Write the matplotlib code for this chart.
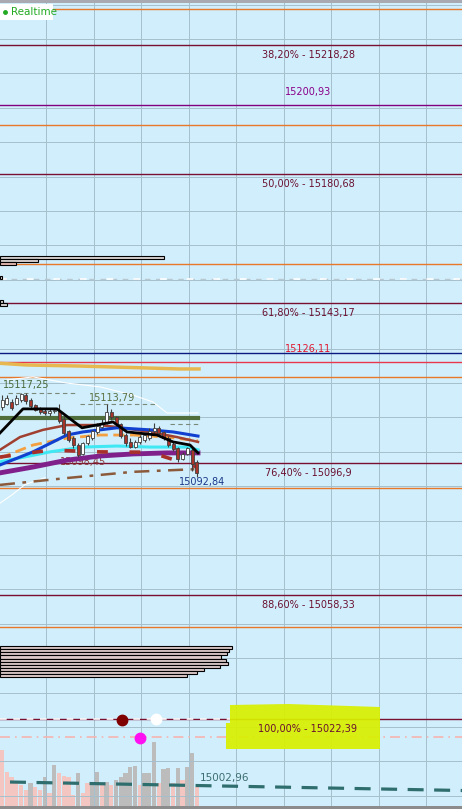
import numpy as np
import matplotlib.pyplot as plt
from matplotlib.patches import Polygon, Rectangle

P_TOP = 15231.36   # price at the top edge
PX = 3.44          # pixels per price point
W, H = 462, 809
BG = '#d1eefc'

# fibonacci retracement levels
fib_pct = ['38,20%', '50,00%', '61,80%', '76,40%', '88,60%', '100,00%']
fib_val = [15218.28, 15180.68, 15143.17, 15096.9, 15058.33, 15022.39]
fib_txt = ['15218,28', '15180,68', '15143,17', '15096,9', '15058,33', '15022,39']

orange_lv = [15228.74, 15195.02, 15154.62, 15121.76, 15089.50, 15049.10]
purple_lv = 15200.93
blue_lv = 15128.74
red_lv = 15126.11
white_dash_lv = 15150.26
pink_dd_lv = 15017.12

# candles (42 bars)
c_open = [15113.0, 15114.0, 15114.5, 15114.0, 15115.2, 15116.5, 15115.0, 15113.5, 15112.4, 15111.8,
          15111.2, 15111.8, 15112.0, 15109.5, 15106.0, 15104.0, 15102.0, 15099.5, 15102.5, 15104.0,
          15105.8, 15107.2, 15108.5, 15111.5, 15110.0, 15108.0, 15104.8, 15102.8, 15101.5, 15102.8,
          15103.5, 15104.0, 15106.0, 15107.0, 15105.8, 15104.0, 15102.2, 15101.0, 15098.0, 15099.5,
          15100.5, 15097.0]
c_close = [15115.0, 15115.6, 15112.8, 15115.8, 15116.8, 15114.8, 15113.2, 15112.2, 15111.5, 15111.2,
           15112.0, 15112.3, 15109.0, 15105.5, 15103.5, 15102.0, 15099.2, 15102.5, 15104.5, 15106.0,
           15107.5, 15108.5, 15111.5, 15110.0, 15108.0, 15104.5, 15102.5, 15101.3, 15102.8, 15104.2,
           15105.0, 15106.0, 15107.0, 15105.5, 15104.0, 15102.0, 15100.8, 15097.8, 15099.5, 15101.0,
           15096.5, 15094.0]
c_high = [15116.5, 15116.5, 15115.5, 15116.5, 15117.25, 15117.0, 15115.6, 15114.0, 15113.0, 15112.5,
          15112.6, 15112.8, 15113.8, 15110.5, 15106.5, 15104.5, 15102.5, 15103.0, 15105.0, 15106.5,
          15108.3, 15109.5, 15113.79, 15112.5, 15110.5, 15108.5, 15105.5, 15104.0, 15103.5, 15105.0,
          15105.6, 15106.8, 15108.5, 15107.5, 15106.2, 15104.6, 15103.0, 15101.5, 15100.0, 15101.5,
          15101.0, 15097.5]
c_low = [15112.2, 15113.5, 15112.2, 15113.5, 15114.5, 15114.0, 15112.5, 15111.8, 15111.0, 15110.8,
         15110.5, 15111.2, 15108.5, 15104.9, 15102.8, 15101.2, 15098.45, 15099.0, 15102.0, 15103.5,
         15105.3, 15106.8, 15108.0, 15109.3, 15107.5, 15104.0, 15101.8, 15101.0, 15101.2, 15102.3,
         15103.0, 15103.5, 15105.5, 15105.0, 15103.5, 15101.4, 15100.3, 15097.2, 15097.5, 15099.0,
         15094.5, 15092.84]

# volume per bar and whether bar is grey (1) or pink (0)
vol = [56, 34, 29, 24, 21, 16, 23, 19, 16, 29, 13, 41, 33, 30, 29, 11, 33, 13, 23, 23, 34,
       21, 24, 21, 26, 29, 33, 39, 40, 21, 33, 33, 64, 23, 37, 38, 23, 38, 26, 39, 53, 19]
vol_grey = [0, 0, 0, 0, 0, 0, 1, 0, 0, 1, 0, 1, 0, 0, 0, 0, 1, 0, 0, 1, 1,
            0, 1, 0, 1, 1, 1, 1, 1, 0, 1, 1, 1, 0, 1, 1, 0, 1, 0, 1, 1, 0]

# moving averages: (x in px, price)
ma_black = ([0, 23, 57, 82, 113, 127, 157, 173, 190, 198],
            [15105.5, 15112.5, 15112.5, 15107.0, 15108.7, 15105.8, 15104.9, 15102.9, 15102.0, 15099.7])
ma_blue = ([0, 33, 67, 83, 117, 150, 173, 198],
           [15096.2, 15100.0, 15104.9, 15105.8, 15107.0, 15106.4, 15105.8, 15104.6])
ma_brown = ([0, 20, 43, 67, 100, 117, 150, 177, 198],
            [15100.6, 15104.3, 15106.4, 15107.8, 15107.8, 15107.2, 15105.8, 15104.3, 15102.9])
ma_orange = ([0, 33, 67, 100, 133, 167, 198],
             [15098.2, 15102.0, 15104.0, 15104.9, 15104.9, 15104.3, 15103.2])
ma_cyan = ([0, 50, 83, 117, 150, 187, 198],
           [15097.1, 15100.0, 15101.4, 15101.7, 15101.4, 15101.4, 15100.6])
ma_purple = ([0, 33, 67, 100, 133, 167, 198],
             [15093.9, 15095.6, 15097.6, 15098.8, 15099.4, 15099.7, 15099.7])
ma_dashdot = ([0, 67, 133, 198], [15090.4, 15092.4, 15094.2, 15095.0])
ma_reddash = ([0, 50, 100, 150, 198], [15098.5, 15100.5, 15100.0, 15099.9, 15095.5])
band_up = ([7, 33, 67, 100, 133, 153, 167, 198],
           [15120.9, 15121.8, 15120.0, 15118.9, 15116.5, 15114.5, 15111.3, 15111.3])
band_lo = ([0, 12, 25, 45], [15085.1, 15087.5, 15090.5, 15092.5])
gold = ([0, 27, 77, 113, 147, 180, 199],
        [15125.75, 15125.26, 15124.97, 15124.68, 15124.39, 15124.10, 15124.10])
green_lv = 15109.85
teal = ([10, 462], [15004.03, 15001.56])

# volume profile rows: (top price, length px)
prof_hi_top = [15156.85, 15155.98, 15155.11, 15151.1, 15144.15, 15143.3]
prof_hi_len = [164, 38, 16, 2, 3, 7]
prof_lo_top = 15043.48
prof_lo_len = [232, 229, 227, 221, 226, 228, 220, 204, 197, 187]

fig = plt.figure(figsize=(W / 100, H / 100), dpi=100, facecolor=BG)
ax2 = fig.add_axes([0, 0, 1, 1])
ax = fig.add_axes([0, 0, 1, 1])
ax2.set_zorder(0)
ax.set_zorder(1)
for a in (ax, ax2):
    a.set_axis_off()
    a.set_xlim(0, W)
ax.set_ylim(P_TOP - H / PX, P_TOP)
ax2.set_ylim(-3, H - 3)


def py(px):
    return P_TOP - px / PX


# grid
gc = '#a6bfcd'
for p in np.arange(15000, 15231, 10):
    ax.axhline(p, color=gc, lw=0.7, zorder=0)
for x in 46 + 47.5 * np.arange(9):
    ax.axvline(x, color=gc, lw=0.7, zorder=0)

# volume
xs = 2 + 4.75 * np.arange(len(vol))
ax2.bar(xs, vol, width=4.1, color=['#bcbcbc' if g else '#f3c6c2' for g in vol_grey], zorder=1)

# horizontal levels
for p in orange_lv:
    ax.axhline(p, color='#e8782a', lw=1, zorder=2)
for p, pc, t in zip(fib_val, fib_pct, fib_txt):
    ax.axhline(p, color='#7a1030', lw=1, zorder=2)
    ax.text(308, p - 1.45, f'{pc} - {t}', ha='center', va='top', fontsize=7,
            color='#6a1030', zorder=6)
ax.axhline(purple_lv, color='#800080', lw=1, zorder=2)
ax.text(308, purple_lv + 2.3, '15200,93', ha='center', va='bottom', fontsize=7, color='#8a008a')
ax.axhline(blue_lv, color='#0a1a80', lw=1, zorder=2)
ax.axhline(red_lv, color='#e8384a', lw=1, zorder=2)
ax.text(308, red_lv + 2.3, '15126,11', ha='center', va='bottom', fontsize=7, color='#e01830')
ax.axhline(white_dash_lv, color='#b8c8d0', lw=1, dashes=(4, 4), zorder=2)
ax.plot([0, W], [white_dash_lv] * 2, color='white', lw=1.2, dashes=(4, 12), zorder=2)
ax.plot([0, 230], [fib_val[-1]] * 2, color='white', lw=1.2, dashes=(4, 4), zorder=2)
ax.axhline(pink_dd_lv, color='#f4b4b0', lw=1.2, dashes=(6, 3, 1, 3), zorder=2)

# highlight
hl = [(230, py(705)), (288, py(704)), (380, py(707)), (380, py(749)), (226, py(749)),
      (226, py(723)), (230, py(723))]
ax.add_patch(Polygon(hl, closed=True, color='#d8f000', alpha=0.93, lw=0, zorder=3))

# volume profile
for t, l in zip(prof_hi_top, prof_hi_len):
    ax.barh(t - 0.43, l, height=0.82, left=0, color='#e0b4ae' if l == 16 else '#d6d0d0',
            edgecolor='black', lw=0.8, zorder=3)
for i, l in enumerate(prof_lo_len):
    ax.barh(prof_lo_top - 0.89 * i - 0.445, l, height=0.89, left=0, color='#dcc8c8',
            edgecolor='black', lw=0.8, zorder=3)

# bands and averages
ax.plot(*band_up, color='white', lw=0.8, zorder=3)
ax.plot(*band_lo, color='white', lw=0.8, zorder=3)
ax.plot(*gold, color='#e8b850', lw=2.5, zorder=3)
ax.plot([0, 198], [green_lv] * 2, color='#4f6e3c', lw=3, zorder=3)
ax.plot(*ma_dashdot, color='#8a5a3a', lw=1.8, dashes=(6, 3, 1.5, 3), zorder=3)
ax.plot(*ma_purple, color='#80208a', lw=3.5, zorder=3)
ax.plot(*ma_cyan, color='#40e8f4', lw=2.2, zorder=3)
ax.plot(*ma_orange, color='#f4a040', lw=2, dashes=(4, 2), zorder=3)
ax.plot(*ma_brown, color='#a04030', lw=1.8, zorder=3)
ax.plot(*ma_blue, color='#1040d0', lw=2.2, zorder=3)
ax.plot(*ma_reddash, color='#a8302a', lw=2.6, dashes=(3, 6), zorder=3)

# reference dashes at highs
ax.plot([8, 75], [15117.25] * 2, color='#7a8a7a', lw=0.8, dashes=(4, 3), zorder=3)
ax.plot([80, 157], [15113.79] * 2, color='#7a8a7a', lw=0.8, dashes=(4, 3), zorder=3)
ax.plot([170, 198], [15108.11] * 2, color='#7a8a7a', lw=0.8, dashes=(4, 3), zorder=3)

# candles
for x, o, c, h, l in zip(xs, c_open, c_close, c_high, c_low):
    ax.vlines(x, l, h, color='#404040', lw=0.8, zorder=4)
    fc = 'white' if c >= o else '#a8342a'
    ax.bar(x, max(abs(c - o), 0.3), bottom=min(o, c), width=3, color=fc,
           edgecolor='#404040', lw=0.6, zorder=4)
ax.plot(*ma_black, color='black', lw=2, zorder=5)

ax.text(3, 15119.4, '15117,25', fontsize=7, color='#4a6a3a', va='center', zorder=6)
ax.text(89, 15115.8, '15113,79', fontsize=7, color='#5a7040', va='center', zorder=6)
ax.text(60, 15097.1, '15098,45', fontsize=7, color='#8b3a3a', va='center', zorder=2.5)
ax.text(179, 15091.2, '15092,84', fontsize=7, color='#1a3a8a', va='center', zorder=6)

# markers
ax.plot(122, py(720), 'o', ms=7.5, color='#800000', zorder=6)
ax.plot(156, py(719), 'o', ms=7.5, color='white', zorder=6)
ax.plot(140, py(738), 'o', ms=7.5, color='#ff10f0', zorder=6)

# teal trend line
ax.plot(*teal, color='#2f6e6e', lw=2.3, dashes=(5, 3.3), zorder=5)
ax.text(200, py(778), '15002,96', fontsize=7.5, color='#3c6e70', va='center', zorder=6)

# borders and realtime tag
ax.add_patch(Rectangle((0, py(2.5)), W, 2.5 / PX, color='#a9a9b2', lw=0, zorder=7))
ax.add_patch(Rectangle((0, py(809)), W, 3 / PX, color='#8c8c8c', lw=0, zorder=7))
ax.add_patch(Rectangle((0, py(20)), 53, 16 / PX, color='white', lw=0, zorder=7))
ax.plot(5, py(12), 'o', ms=2.5, color='#22aa22', zorder=8)
ax.text(10.5, py(12), 'Realtime', fontsize=7.5, color='#22aa22', va='center', zorder=8)

fig.savefig('out.png', dpi=100, facecolor=BG)
